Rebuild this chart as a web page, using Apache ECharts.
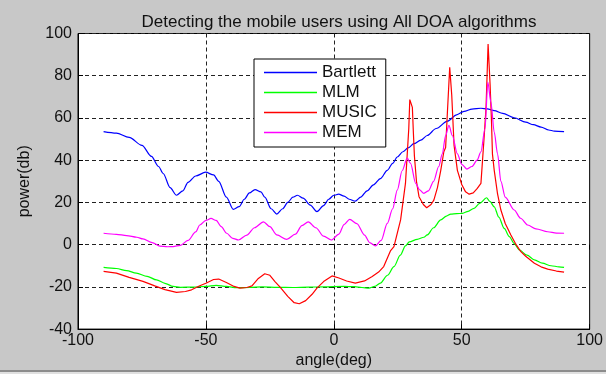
<!DOCTYPE html>
<html>
<head>
<meta charset="utf-8">
<script src="https://cdn.jsdelivr.net/npm/echarts@6/dist/echarts.min.js"></script>
<style>
  html, body { margin: 0; padding: 0; background: #c8c8c8; }
  #chart { width: 606px; height: 374px; }
</style>
</head>
<body>
<div id="chart"></div>
<script>
// [angle (deg), power (db)]
const bartlett = [[-90,53.5],[-85,52.8],[-80,50.8],[-75,47],[-71.3,41.8],[-68.5,37],[-66.7,33.7],[-64,27],[-61.5,23.4],[-59,25.5],[-57,29.5],[-54,32.5],[-50.1,34.3],[-47,33],[-45,30],[-42,22.5],[-39.3,16.7],[-37,18],[-35,21.5],[-33,24.5],[-30.8,26.1],[-28.5,25],[-27,22.5],[-24.5,17],[-22.3,14.5],[-20,17],[-18,20],[-16,22.5],[-14.2,23.4],[-12,22],[-9.2,18.7],[-6.6,15.6],[-4,18.5],[-2,21.5],[0,23.4],[1.9,23.9],[4,23],[6,21.5],[8.4,20.6],[10.5,22.5],[13,25.5],[15.5,28.3],[18.2,31.3],[20.9,35.2],[23,38.5],[24.8,41.5],[27,44],[29,45.8],[31.3,47.8],[34,49.5],[36.5,51.7],[40,55],[44.4,58.5],[48,61.5],[50.9,63.1],[54,64.2],[57.5,64.6],[60,64.3],[62.7,63.5],[66,62.2],[70.5,60.1],[75,58],[78,56.8],[81,55.7],[84,54.3],[86.2,53.8],[90,53.5]];

const mlm = [[-90,-10.8],[-85,-11.3],[-81,-12.3],[-77.2,-13.5],[-73,-15],[-69.3,-16.7],[-66,-18.3],[-62.8,-19.8],[-60,-20.2],[-55,-20.1],[-50,-19.8],[-46,-19.3],[-42,-19.8],[-38,-20.4],[-33,-20.3],[-28,-20],[-22,-20.2],[-16,-20.3],[-10,-20.1],[-4,-20],[3.9,-19.8],[8,-19.9],[11,-20.3],[13.7,-20.6],[16,-19.8],[18.2,-18.2],[21,-14.5],[23.5,-10.4],[26,-5],[28,-0.6],[29.5,1.3],[32.6,2.5],[35.2,3.5],[36.5,4.6],[39,8],[41.8,11.7],[44,13.5],[45.7,14.5],[48,14.7],[50.3,14.8],[52.5,15.8],[54.8,17.2],[57,19.5],[59.7,22.2],[61,20.5],[62.7,17.9],[64.5,13],[66.6,7.7],[68.6,3.8],[70.5,0.5],[72.5,-2.5],[75.5,-5],[78.4,-7.2],[81.5,-8.8],[84.9,-10],[88,-10.5],[90,-10.8]];

const music = [[-90,-12.7],[-85,-13.5],[-80,-15.5],[-74.6,-17.4],[-70,-19.5],[-66,-21.3],[-61.5,-22.6],[-58,-22.2],[-55.6,-21.4],[-52.4,-19.5],[-50,-18.3],[-47,-16.5],[-45,-16.3],[-42,-17.9],[-39,-19.8],[-36.7,-20.6],[-34,-20.3],[-32,-19.5],[-29.5,-16],[-27,-13.8],[-25,-14.5],[-23,-17.5],[-21,-20.1],[-18,-24.5],[-15.5,-27.5],[-13.5,-28],[-11,-26.5],[-8.5,-23.5],[-6.6,-20.6],[-4,-17.5],[-0.7,-14.8],[2,-15.8],[5,-17.2],[8.4,-18.2],[12,-17.2],[15,-15.1],[17.5,-13],[19.5,-10.4],[22.2,-2.8],[23.5,-0.9],[26.1,11.7],[28,29],[28.8,45],[29.3,55],[29.7,68.7],[30.7,65],[31.1,53],[31.5,42],[32.3,30],[33.3,22.7],[35,19],[36.3,17.5],[38,19],[39.1,21.1],[40.5,27],[41.8,35.2],[43,44],[43.7,46],[44.4,62.7],[45.3,84],[46.1,70.6],[47,47],[48.3,35.2],[50,28.5],[51.5,25],[52.9,23.9],[54.5,24.5],[56,26.5],[57.5,29],[58.8,51.7],[59.5,65],[60.3,95],[61.1,75.3],[61.6,59.6],[62,43],[62.7,35.2],[64,24],[65.3,16.4],[67,10],[69.2,4.6],[71,0.5],[73.1,-3.3],[75,-5.5],[78.4,-8.8],[81,-10.5],[83.6,-11.6],[87,-12.5],[90,-13]];

const mem = [[-90,5.4],[-85,4.9],[-81,4.3],[-77,3.5],[-74.6,2.7],[-71,1],[-68,-0.7],[-65,-1],[-62.8,-0.9],[-60,-0.3],[-57,2],[-54,6],[-52.4,9.3],[-50,11.5],[-48,12.4],[-46,11.5],[-44,8.5],[-41.9,5.4],[-39.5,3],[-37.3,2.2],[-34,4.5],[-31,8],[-27.5,10.8],[-25,8.5],[-22.3,4.6],[-18.4,2.5],[-15,5],[-12.5,9],[-10,10.8],[-7,8],[-4,4],[-1,2.2],[2,5],[4,9.5],[6.2,12],[9,10],[12,4.5],[14,1],[16.3,-0.6],[18.5,2],[20.9,10.1],[23,17],[24.8,25.8],[26.7,35],[28.7,41],[30,38.5],[32,29],[33.5,26],[35.2,24.3],[37,25.5],[39,30],[41,37],[42.4,43],[43.7,51.7],[45,56.5],[46.3,51.7],[48.3,43],[50,38],[52,35.8],[54,37],[56,40],[57.5,44],[59.1,55],[60.2,77],[61.4,67.5],[62.7,53.3],[64,43],[65.3,30],[67,22.5],[70.5,16.4],[73,12.5],[75.8,9.3],[79,7.5],[83.6,6.1],[87,5.5],[90,5.4]];

const xTicks = { min: -100, max: 100, interval: 50 };
const yTicks = { min: -40, max: 100, interval: 20 };

const font = '"Liberation Sans", Arial, sans-serif';

const gridLine = {
  show: true,
  lineStyle: { color: '#222', type: [4, 3], width: 1 }
};

const makeSeries = (name, data, color, smooth) => ({
  name,
  type: 'line',
  data,
  symbol: 'none',
  smooth: smooth ? 0.3 : false,
  smoothMonotone: smooth ? 'x' : undefined,
  lineStyle: { color, width: 1.2 },
  itemStyle: { color },
  animation: false
});

const chart = echarts.init(document.getElementById('chart'), null, { renderer: 'canvas' });

chart.setOption({
  backgroundColor: '#c8c8c8',
  animation: false,
  textStyle: { fontFamily: font },
  title: {
    text: 'Detecting the mobile users using All DOA algorithms',
    left: 334,
    textAlign: 'center',
    top: 9,
    textStyle: { fontFamily: font, fontSize: 17, fontWeight: 'normal', color: '#111' }
  },
  grid: {
    left: 78, right: 16, top: 33.5, bottom: 44,
    show: true, backgroundColor: '#fff', borderColor: '#000', borderWidth: 1
  },
  legend: {
    orient: 'vertical',
    left: 254,
    top: 59,
    backgroundColor: '#fff',
    borderColor: '#000',
    borderWidth: 1,
    padding: [4, 9, 5, 10],
    icon: 'rect',
    itemWidth: 53,
    itemHeight: 1.4,
    itemGap: 1,
    textStyle: { fontFamily: font, fontSize: 17, color: '#111', lineHeight: 19 },
    data: ['Bartlett', 'MLM', 'MUSIC', 'MEM']
  },
  xAxis: [
    {
      type: 'value',
      ...xTicks,
      name: 'angle(deg)',
      nameLocation: 'middle',
      nameGap: 22,
      nameTextStyle: { fontFamily: font, fontSize: 16, color: '#111' },
      axisLine: { show: true, onZero: false, lineStyle: { color: '#000' } },
      axisTick: { show: true, inside: true, length: 5, lineStyle: { color: '#000' } },
      axisLabel: { fontFamily: font, fontSize: 16, color: '#111', margin: 3 },
      splitLine: gridLine
    },
    {
      type: 'value',
      position: 'top',
      ...xTicks,
      axisLine: { show: false },
      axisTick: { show: true, inside: true, length: 5, lineStyle: { color: '#000' } },
      axisLabel: { show: false },
      splitLine: { show: false }
    }
  ],
  yAxis: [
    {
      type: 'value',
      ...yTicks,
      name: 'power(db)',
      nameLocation: 'middle',
      nameGap: 45,
      nameTextStyle: { fontFamily: font, fontSize: 16, color: '#111' },
      axisLine: { show: true, onZero: false, lineStyle: { color: '#000' } },
      axisTick: { show: true, inside: true, length: 5, lineStyle: { color: '#000' } },
      axisLabel: { fontFamily: font, fontSize: 16, color: '#111', margin: 6 },
      splitLine: gridLine
    },
    {
      type: 'value',
      position: 'right',
      ...yTicks,
      axisLine: { show: false },
      axisTick: { show: true, inside: true, length: 5, lineStyle: { color: '#000' } },
      axisLabel: { show: false },
      splitLine: { show: false }
    }
  ],
  graphic: [
    { type: 'rect', left: 0, top: 370, shape: { width: 606, height: 2 }, style: { fill: '#8c8c8c' }, silent: true },
    { type: 'rect', left: 0, top: 372, shape: { width: 606, height: 2 }, style: { fill: '#e0e0e0' }, silent: true }
  ],
  series: [
    makeSeries('Bartlett', bartlett, '#0000ff', true),
    makeSeries('MLM', mlm, '#00ff00', true),
    makeSeries('MUSIC', music, '#ff0000', false),
    makeSeries('MEM', mem, '#ff00ff', true)
  ]
});
</script>
</body>
</html>
